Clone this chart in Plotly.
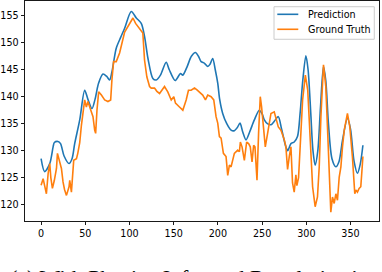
import plotly.graph_objects as go

# ---- data ----
pred_x = [0, 4, 9.8, 13.6, 15, 19, 22, 26, 31.6, 35, 38, 43.7, 49.3, 53, 57.6, 61, 65, 70, 74, 77.5,
          80, 85, 90, 94.5, 102, 107.7, 113.3, 117, 121, 126.4, 130.2, 135, 141.5, 145, 151.7, 157.7,
          160.3, 165, 170, 174.6, 178, 181, 184.8, 188.5, 191, 194.1, 197, 199.8, 202, 205.4, 210,
          214.9, 218.6, 222, 225, 228, 231.8, 236, 241.2, 246.8, 250, 252.5, 256, 260, 264, 268.3,
          272, 276.9, 279, 282.6, 286.3, 290, 293, 296, 299.5, 302, 305, 307.5, 310, 313, 316, 319.4,
          322, 325, 329, 333.4, 337, 341, 346.5, 350, 354, 357.8, 361, 364]
pred_y = [128.5, 126.1, 127.6, 130.7, 131.5, 131.7, 131.3, 129.0, 127.6, 128.5, 131.3, 135.7, 141.2,
          139.5, 137.8, 139.5, 142.5, 144.2, 143.8, 143.1, 144.5, 149.0, 151.0, 152.7, 155.8, 154.6,
          153.6, 151.2, 147.0, 143.4, 143.1, 144.0, 146.4, 145.0, 143.0, 144.3, 144.0, 145.5, 147.5,
          148.2, 147.5, 146.5, 146.2, 145.6, 146.0, 147.1, 145.0, 142.5, 139.5, 136.9, 135.0, 133.8,
          133.7, 134.3, 135.1, 133.5, 132.0, 133.5, 135.7, 137.5, 136.8, 135.7, 135.0, 134.8, 135.5,
          136.3, 134.0, 130.7, 130.0, 131.3, 131.6, 132.6, 137.0, 143.0, 147.6, 145.0, 137.0, 130.0,
          127.3, 130.0, 138.0, 145.6, 143.0, 135.0, 128.5, 127.0, 128.0, 132.0, 136.0, 134.0, 128.0,
          125.8, 127.5, 131.0]

truth_x = [0, 2.3, 4, 6, 8, 9.8, 11, 12.8, 15, 17.4, 18.5, 21, 23, 24.8, 26.5, 28.7, 31.6, 32.4, 34.3,
           36.9, 40, 41.5, 43.7, 45.6, 47.4, 49.3, 51.2, 53, 55, 58.7, 60.6, 61.7, 63.2, 65.1, 68.2,
           71.9, 75.6, 78.7, 80.1, 82, 85, 88.8, 94.5, 98.2, 103.9, 106.9, 111.4, 115.1, 117, 119.6,
           122.7, 124.6, 128.3, 131, 134, 139.6, 143.3, 147.2, 150.1, 152, 156.5, 160.3, 164.1, 166.7,
           169.7, 173.5, 176, 179.1, 182.8, 185.9, 188.5, 192.3, 195.3, 197.9, 199.8, 201.7, 203.6,
           206.2, 209.2, 211.1, 213, 214.9, 218.6, 222.4, 224.3, 225.4, 227.3, 229.9, 232.5, 234.7,
           236.6, 238.6, 240.4, 241.9, 244.2, 246, 247.9, 249.4, 251.7, 253.6, 256.2, 260, 263.7,
           265.6, 268.3, 271.3, 275.1, 276.9, 278.8, 280.7, 282.6, 284.4, 286.3, 288.2, 289.3, 291.2,
           293.9, 295.8, 298.9, 301.6, 303.3, 305.3, 307.1, 310, 312.6, 314.6, 316.5, 319.4, 322,
           323.9, 325.9, 327.7, 329.6, 331.5, 333.4, 335.2, 337.2, 339.1, 340.9, 342.9, 346.5, 349.2,
           352.1, 354.8, 356, 357.8, 359.7, 361.6, 362.7, 364]
truth_y = [123.6, 124.8, 123.5, 122.0, 125.8, 127.6, 125.0, 123.0, 124.5, 126.7, 129.5, 127.6, 126.7,
           124.2, 122.8, 121.7, 123.3, 124.5, 122.3, 128.2, 128.5, 129.5, 131.5, 134.7, 136.9, 139.4,
           138.1, 139.1, 138.1, 136.3, 133.8, 133.2, 137.5, 140.9, 140.3, 139.4, 139.1, 139.4, 143.1,
           146.5, 146.5, 148.1, 152.0, 153.0, 154.6, 153.6, 152.7, 151.8, 146.8, 143.7, 141.9, 141.6,
           141.6, 141.0, 140.6, 141.9, 140.9, 139.4, 140.0, 138.8, 138.1, 137.5, 139.4, 141.2, 141.2,
           141.6, 141.3, 140.9, 140.3, 139.4, 140.3, 140.0, 139.4, 136.3, 135.1, 132.6, 132.3, 129.5,
           128.9, 125.4, 127.3, 127.0, 129.5, 130.1, 129.8, 131.6, 130.7, 128.2, 131.6, 131.3, 130.7,
           127.9, 131.0, 130.7, 124.5, 133.2, 140.0, 138.1, 134.4, 130.7, 133.2, 136.9, 137.2, 135.9,
           134.4, 133.8, 132.0, 130.7, 126.5, 128.9, 130.7, 124.0, 122.3, 125.5, 123.5, 125.0, 133.2,
           139.4, 144.0, 141.2, 135.7, 129.5, 123.3, 119.6, 121.4, 127.0, 136.3, 145.9, 141.9, 134.4,
           125.8, 118.6, 121.4, 120.2, 122.0, 120.8, 125.1, 127.0, 130.7, 133.8, 136.9, 134.4, 128.9,
           122.0, 122.7, 122.3, 123.0, 123.3, 125.8, 128.9]

x_ticks = [0, 50, 100, 150, 200, 250, 300, 350]
y_ticks = [120, 125, 130, 135, 140, 145, 150, 155]
series_names = ["Prediction", "Ground Truth"]
caption = "(a) With Physics-Informed Regularization"

BLUE = "#1f77b4"
ORANGE = "#ff7f0e"
COLORS = [BLUE, ORANGE]
FONT = dict(family="DejaVu Sans", size=9.6, color="black")

fig = go.Figure()
fig.add_trace(go.Scatter(x=pred_x, y=pred_y, mode="lines", name=series_names[0],
                         line=dict(color=BLUE, width=1.6, shape="spline", smoothing=0.8)))
fig.add_trace(go.Scatter(x=truth_x, y=truth_y, mode="lines", name=series_names[1],
                         line=dict(color=ORANGE, width=1.6)))

axis_common = dict(showline=True, linecolor="black", linewidth=0.9, mirror=True,
                   ticks="outside", ticklen=3.5, tickwidth=0.9, tickcolor="black",
                   showgrid=False, zeroline=False, tickfont=FONT)

fig.update_xaxes(range=[-18.2, 382.2], tickvals=x_ticks, ticktext=[str(v) for v in x_ticks],
                 **axis_common)
fig.update_yaxes(range=[116.95, 157.75], tickvals=y_ticks, ticktext=[str(v) for v in y_ticks],
                 **axis_common)

# matplotlib-style legend box (upper right), drawn in paper coordinates
shapes = [dict(type="rect", xref="paper", yref="paper", x0=0.7034, x1=0.9867, y0=0.826, y1=0.974,
               line=dict(color="#cccccc", width=1), fillcolor="rgba(255,255,255,0.8)", layer="above")]
annotations = []
for i, (name, col) in enumerate(zip(series_names, COLORS)):
    yy = 0.9395 - i * 0.0681
    shapes.append(dict(type="line", xref="paper", yref="paper", x0=0.7127, x1=0.7720, y0=yy, y1=yy,
                       line=dict(color=col, width=1.6), layer="above"))
    annotations.append(dict(text=name, xref="paper", yref="paper", x=0.7938, y=yy,
                            xanchor="left", yanchor="middle", showarrow=False, font=FONT))

annotations.append(dict(text=caption, xref="paper", yref="paper", x=-0.048, y=-0.258,
                        xanchor="left", yanchor="middle", showarrow=False,
                        font=dict(family="Liberation Serif", size=22, color="black")))

fig.update_layout(
    width=382, height=272,
    margin=dict(l=25, r=3, t=1, b=51, pad=0),
    plot_bgcolor="white", paper_bgcolor="white",
    showlegend=False,
    shapes=shapes,
    annotations=annotations,
)

fig.write_html("out.html", config={"displayModeBar": False, "staticPlot": True},
               post_script="document.body.style.margin='0';document.body.style.overflow='hidden';")
